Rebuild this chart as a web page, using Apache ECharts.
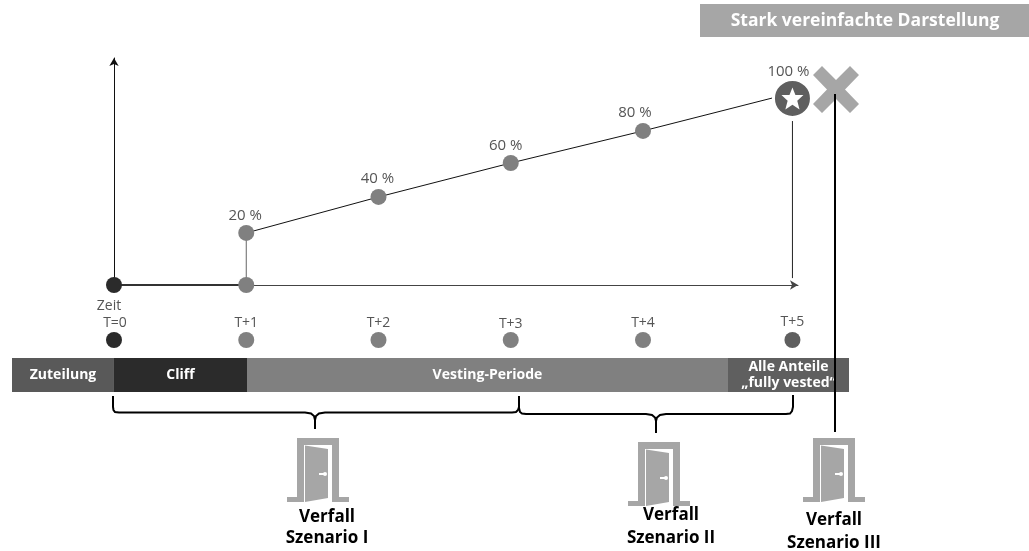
<!DOCTYPE html>
<html>
<head>
<meta charset="utf-8">
<title>Vesting</title>
<style>
    html, body { margin: 0; padding: 0; background: #fff; }
    #chart { width: 1029px; height: 551px; }
</style>
<script src="https://cdn.jsdelivr.net/npm/echarts@6/dist/echarts.min.js"></script>
</head>
<body>
<div id="chart"></div>
<script>
// Zeitachse
const timeLabels = ['T=0', 'T+1', 'T+2', 'T+3', 'T+4', 'T+5'];
const timeValues = [0, 1, 2, 3, 4, 5.13];

// Vesting-Kurve
const vestingTimes = [1, 2, 3, 4, 5.13];
const vestingLevels = [27.9, 47.2, 65.4, 82.6, 100];
const vestingLineLevels = [27.9, 47.2, 65.4, 82.6, 103];
const vestingLabels = ['20 %', '40 %', '60 %', '80 %', '100 %'];

// Phasen
const phaseNames = ['Zuteilung', 'Cliff', 'Vesting-Periode', 'Alle Anteile\n„fully vested“'];
const phaseLengths = [0.771, 1.006, 3.637, 0.915];

const FONT = '"Open Sans", sans-serif';
const GREY = '#808080';
const DARK = '#2b2b2b';
const DOOR = '#a6a6a6';

// etwas versetzte Beschriftungen wie im Original
const timeLabelOffsets = [[1, 2], [0, 2], [0, 2], [0, 3], [0, 2], [0, 1]];
const vestingLabelOffsets = [[-1, 1], [-1, 0], [-5, 1], [-8, 0], [-4, 1]];
const phaseColors = ['#595959', DARK, GREY, '#5f5f5f'];

// Tür-Symbol
const doorShape = (x, y) => ({
    type: 'group',
    x: x,
    y: y,
    children: [
        {
            type: 'polygon',
            shape: { points: [[10, 0], [52, 0], [52, 59], [62, 59], [62, 64], [45, 64], [45, 7], [17, 7], [17, 64], [0, 64], [0, 59], [10, 59]] },
            style: { fill: DOOR }
        },
        {
            type: 'polygon',
            shape: { points: [[18, 7.5], [41, 11], [41, 60], [18, 64]] },
            style: { fill: DOOR }
        },
        {
            type: 'rect',
            shape: { x: 32, y: 35, width: 7, height: 2 },
            style: { fill: '#fff' }
        },
        {
            type: 'circle',
            shape: { cx: 38, cy: 36, r: 2 },
            style: { fill: '#fff' }
        }
    ]
});

const bracket = (points) => ({
    type: 'polyline',
    shape: { points: points },
    style: { fill: null, stroke: '#000', lineWidth: 2 }
});

const text = (x, y, value, font, fill) => ({
    type: 'text',
    x: x,
    y: y,
    z: 20,
    style: { text: value, font: font, fill: fill, align: 'center', verticalAlign: 'middle' }
});

const boldText = (x, y, value) => text(x, y, value, 'bold 17px ' + FONT, '#000');

const chart = echarts.init(document.getElementById('chart'), null, { renderer: 'canvas' });

chart.setOption({
    animation: false,
    backgroundColor: '#fff',
    textStyle: { fontFamily: FONT },
    grid: [
        { left: 114, top: 58, width: 684, height: 227 },
        { left: 114, top: 330, width: 684, height: 20 },
        { left: 12, top: 358, width: 837, height: 34 }
    ],
    xAxis: [
        {
            type: 'value',
            gridIndex: 0,
            min: 0,
            max: 5.172,
            splitLine: { show: false },
            axisTick: { show: false },
            axisLabel: { show: false },
            axisLine: { lineStyle: { color: '#444', width: 1 }, symbol: ['none', 'arrow'], symbolSize: [7, 8] }
        },
        { type: 'value', gridIndex: 1, min: 0, max: 5.172, show: false },
        { type: 'value', gridIndex: 2, min: 0, max: 6.329, show: false }
    ],
    yAxis: [
        {
            type: 'value',
            gridIndex: 0,
            min: 0,
            max: 121.7,
            splitLine: { show: false },
            axisTick: { show: false },
            axisLabel: { show: false },
            axisLine: { lineStyle: { color: '#111', width: 1 }, symbol: ['none', 'arrow'], symbolSize: [7, 8] }
        },
        { type: 'value', gridIndex: 1, min: -1, max: 1, show: false },
        { type: 'category', gridIndex: 2, data: ['Phase'], show: false }
    ],
    series: [
        // Cliff auf der Zeitachse
        {
            type: 'line',
            symbol: 'none',
            data: [[0, 0], [1, 0]],
            lineStyle: { color: '#333', width: 2 },
            z: 3
        },
        {
            type: 'line',
            symbol: 'none',
            data: [[1, 0], [1, vestingLevels[0]]],
            lineStyle: { color: '#666', width: 1 },
            z: 3
        },
        {
            type: 'line',
            symbol: 'none',
            data: [[timeValues[5], 3.7], [timeValues[5], 87.9]],
            lineStyle: { color: '#222', width: 1 },
            z: 3
        },
        {
            type: 'line',
            symbol: 'none',
            data: vestingTimes.map((t, i) => [t, vestingLineLevels[i]]),
            lineStyle: { color: '#111', width: 1 },
            z: 3
        },
        // Punkte auf der Achse
        {
            type: 'scatter',
            symbolSize: 16,
            clip: false,
            data: [
                { value: [0, 0], itemStyle: { color: DARK, opacity: 1 } },
                { value: [1, 0], itemStyle: { color: GREY, opacity: 1 } }
            ],
            z: 4
        },
        // Vesting-Punkte
        {
            type: 'scatter',
            symbolSize: 16,
            clip: false,
            data: vestingTimes.map((t, i) => ({
                value: [t, vestingLevels[i]],
                symbolSize: i === 4 ? 38 : 16,
                itemStyle: i === 4 ? { color: '#5f5f5f', borderColor: '#fff', borderWidth: 3, opacity: 1 } : { color: GREY, opacity: 1 },
                label: {
                    show: true,
                    formatter: vestingLabels[i],
                    position: 'top',
                    distance: i === 4 ? 0 : 3,
                    offset: vestingLabelOffsets[i],
                    color: '#555',
                    fontSize: 15,
                    fontFamily: FONT
                }
            })),
            z: 5
        },
        // Stern im letzten Punkt
        {
            type: 'scatter',
            symbol: 'path://M50 2L63 33H98L71 56L81 92L50 73L19 92L29 56L2 33H37Z',
            symbolSize: 22,
            clip: false,
            itemStyle: { color: '#fff', opacity: 1 },
            data: [[vestingTimes[4], vestingLevels[4]]],
            z: 6
        },
        // Zeitreihe T=0 ... T+5
        {
            type: 'scatter',
            xAxisIndex: 1,
            yAxisIndex: 1,
            symbolSize: 16,
            data: timeValues.map((t, i) => ({
                value: [t, 0],
                itemStyle: { color: i === 0 ? DARK : (i === 5 ? '#5f5f5f' : GREY), opacity: 1 },
                label: {
                    show: true,
                    formatter: timeLabels[i],
                    position: 'top',
                    distance: 4,
                    offset: timeLabelOffsets[i],
                    color: '#555',
                    fontSize: 14,
                    fontFamily: FONT
                }
            }))
        },
        // Phasen-Balken
        ...phaseNames.map((name, i) => ({
            type: 'bar',
            name: name,
            xAxisIndex: 2,
            yAxisIndex: 2,
            stack: 'phase',
            barWidth: 34,
            data: [phaseLengths[i]],
            itemStyle: { color: phaseColors[i] },
            label: {
                show: true,
                formatter: name,
                position: 'inside',
                color: '#fff',
                fontSize: 14,
                fontWeight: 'bold',
                lineHeight: 16,
                fontFamily: FONT
            }
        }))
    ],
    graphic: [
        {
            type: 'rect',
            shape: { x: 700, y: 4, width: 329, height: 33 },
            style: { fill: DOOR }
        },
        text(865, 21, 'Stark vereinfachte Darstellung', 'bold 17.500px ' + FONT, '#fff'),
        text(109, 306, 'Zeit', '14px ' + FONT, '#555'),
        // Kreuz
        {
            type: 'polygon',
            shape: { points: [[813, 75], [822, 66], [836, 80], [850, 66], [859, 75], [845, 89.500], [859, 104], [850, 113], [836, 99], [822, 113], [813, 104], [827, 89.500]] },
            style: { fill: DOOR }
        },
        {
            type: 'line',
            z: 10,
            shape: { x1: 835, y1: 94, x2: 835, y2: 432 },
            style: { stroke: '#000', lineWidth: 2 }
        },
        // Klammern
        bracket([[113, 396], [113, 407], [113.500, 410], [115, 412], [119, 412.500], [305, 412.500], [311, 413.500], [314, 416], [315, 420], [315, 429]]),
        bracket([[315, 420], [316, 416], [319, 413.500], [325, 412.500], [512, 412.500], [516, 412], [518, 410], [519, 407], [519, 396]]),
        bracket([[519, 396], [519, 408], [520, 412], [522, 413.500], [526, 414], [646, 414], [652, 415], [655, 417.500], [656, 421], [656, 433]]),
        bracket([[656, 421], [657, 417.500], [660, 415], [666, 414], [786, 414], [790, 413.500], [792, 411], [793, 407], [793, 395]]),
        // Türen
        doorShape(287, 438),
        doorShape(628, 442),
        doorShape(803, 438),
        boldText(327, 517, 'Verfall'),
        boldText(327, 538, 'Szenario I'),
        boldText(671, 515, 'Verfall'),
        boldText(671, 538, 'Szenario II'),
        boldText(834, 520, 'Verfall'),
        boldText(834, 543, 'Szenario III')
    ]
});
</script>
</body>
</html>
